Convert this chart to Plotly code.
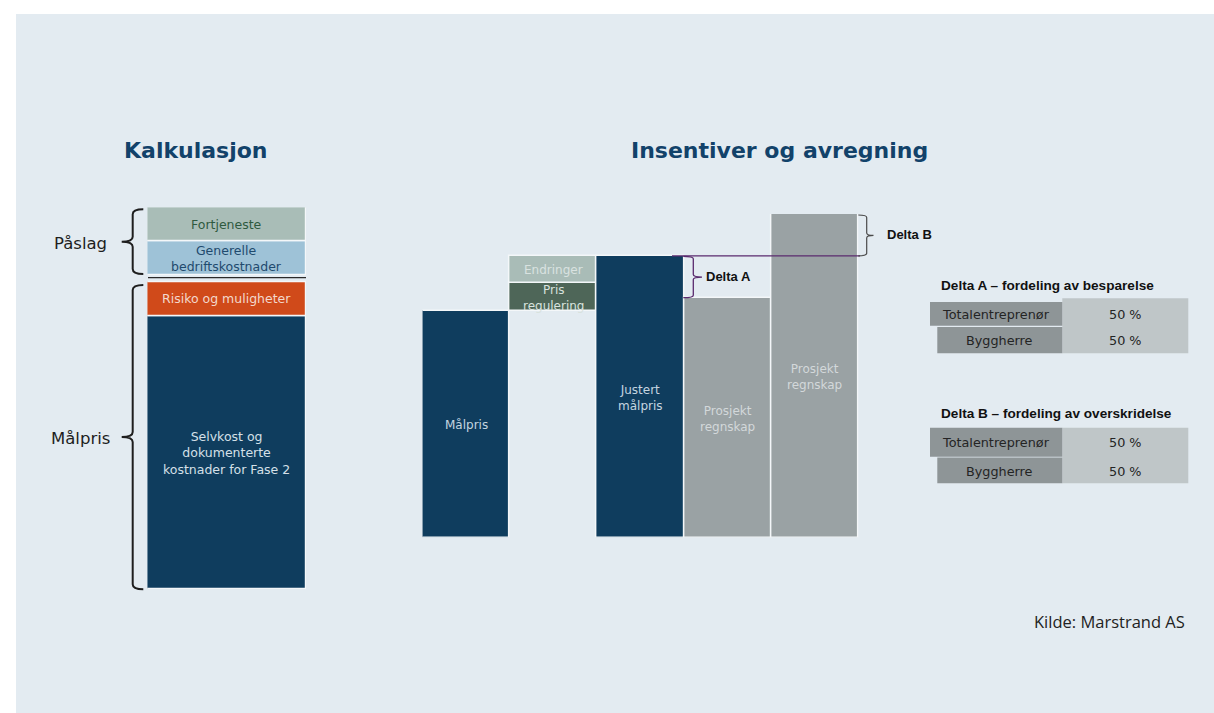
import plotly.graph_objects as go

W, H = 1214, 713

# ---------------- data ----------------
# Left: Kalkulasjon (stacked, bottom -> top)
kalk_labels = ["Selvkost og<br>dokumenterte<br>kostnader for Fase 2", "Risiko og muligheter",
               "Generelle<br>bedriftskostnader", "Fortjeneste"]
kalk_values = [100, 12.5, 12.4, 12.4]
kalk_groups = ["Målpris", "Målpris", "Påslag", "Påslag"]

# Right: Insentiver og avregning
wf_categories = ["Målpris", "Tillegg", "Justert målpris", "Prosjektregnskap A", "Prosjektregnskap B"]
malpris = 100
prisregulering = 12.5
endringer = 12
justert_malpris = 124.5
prosjekt_a = 106
prosjekt_b = 143

parter = ["Totalentreprenør", "Byggherre"]
delta_a_andel = [50, 50]
delta_b_andel = [50, 50]

# ---------------- styles ----------------
NAVY = "#0F3D5E"
BG = "#E3EBF1"
GREY = "#9AA2A4"
GROUP_GAP = 2.5
FONT = "DejaVu Sans"
ARIAL = "Liberation Sans"

def px(x, y):
    return x / W, 1 - y / H

# axis geometry (pixels)
L_X0, L_X1, L_YB, L_YT = 147.3, 306.0, 589.3, 207.3
R_X0, R_X1, R_YB, R_YT = 422.4, 858.6, 537.5, 214.0

total_left = sum(kalk_values) + GROUP_GAP
r_max = max(malpris + prisregulering + endringer, justert_malpris, prosjekt_a, prosjekt_b)

def left_py(v):
    return L_YB - v * (L_YB - L_YT) / total_left

def right_py(v):
    return R_YB - v * (R_YB - R_YT) / r_max

fig = go.Figure()
annotations = []

# ---- left stacked bar ----
kalk_colors = [NAVY, "#D04A1A", "#9EC2D7", "#A9BDB7"]
kalk_text_colors = ["#D5E0E8", "#F3D8CD", "#1F4A6E", "#2F5A3F"]
bases = []
acc = 0
for i, v in enumerate(kalk_values):
    if i > 0 and kalk_groups[i] != kalk_groups[i - 1]:
        acc += GROUP_GAP
    bases.append(acc)
    acc += v
for lab, v, b, c in zip(kalk_labels, kalk_values, bases, kalk_colors):
    fig.add_trace(go.Bar(x=["Kalkulasjon"], y=[v], base=[b], marker=dict(color=c, line=dict(color="#F4F7F9", width=1.5)),
                         xaxis="x2", yaxis="y2", showlegend=False, hoverinfo="skip"))
for lab, v, b, tc in zip(kalk_labels, kalk_values, bases, kalk_text_colors):
    annotations.append(dict(x="Kalkulasjon", y=b + v / 2, xref="x2", yref="y2", text=lab, showarrow=False,
                            font=dict(family=FONT, size=12.5, color=tc), align="center"))

# ---- right waterfall ----
wf_bars = [
    (wf_categories[0], malpris, 0, NAVY, "Målpris", "#C5D5E0"),
    (wf_categories[1], prisregulering, malpris, "#4E6658", "Pris<br>regulering", "#D8E2DE"),
    (wf_categories[1], endringer, malpris + prisregulering, "#A9BCB7", "Endringer", "#D9E2E0"),
    (wf_categories[2], justert_malpris, 0, NAVY, "Justert<br>målpris", "#C5D5E0"),
    (wf_categories[3], prosjekt_a, 0, GREY, "Prosjekt<br>regnskap", "#D3D8DA"),
    (wf_categories[4], prosjekt_b, 0, GREY, "Prosjekt<br>regnskap", "#D3D8DA"),
]
for cat, v, b, c, lab, tc in wf_bars:
    fig.add_trace(go.Bar(x=[cat], y=[v], base=[b], marker=dict(color=c, line=dict(color="#F4F7F9", width=1.5)),
                         xaxis="x", yaxis="y", showlegend=False, hoverinfo="skip"))
    annotations.append(dict(x=cat, y=b + v / 2, xref="x", yref="y", yshift=-1, text=lab, showarrow=False,
                            font=dict(family=FONT, size=12, color=tc), align="center"))

shapes = []
# panel background
shapes.append(dict(type="rect", xref="paper", yref="paper", x0=16 / W, x1=1, y0=0, y1=1 - 14 / H,
                   fillcolor=BG, line=dict(width=0), layer="below"))

def brace_path(x_stem, x_hook, x_tip, y_top, y_bot, r=4):
    ym = (y_top + y_bot) / 2
    pts = [
        ("M", [(x_hook, y_top)]),
        ("Q", [(x_stem, y_top), (x_stem, y_top + r)]),
        ("L", [(x_stem, ym - r)]),
        ("Q", [(x_stem, ym), (x_tip, ym)]),
        ("Q", [(x_stem, ym), (x_stem, ym + r)]),
        ("L", [(x_stem, y_bot - r)]),
        ("Q", [(x_stem, y_bot), (x_hook, y_bot)]),
    ]
    s = ""
    for cmd, ps in pts:
        s += cmd + " " + " ".join("%.5f,%.5f" % px(x, y) for x, y in ps) + " "
    return s.strip()

# Påslag / Målpris braces (left)
pas_top = left_py(bases[2] + kalk_values[2] + kalk_values[3]) + 2
pas_bot = left_py(bases[2]) - 1
mal_top = left_py(bases[1] + kalk_values[1]) + 3
mal_bot = left_py(0)
for yt, yb in [(pas_top, pas_bot), (mal_top, mal_bot)]:
    shapes.append(dict(type="path", xref="paper", yref="paper",
                       path=brace_path(132.7, 143.3, 121.7, yt, yb, r=5),
                       line=dict(color="#1E1E1E", width=2)))
# separator line in the gap
sep_y = left_py(bases[2]) + 2.5
shapes.append(dict(type="line", xref="paper", yref="paper", x0=148 / W, x1=306 / W,
                   y0=1 - sep_y / H, y1=1 - sep_y / H, line=dict(color="#2A2A2A", width=1.2)))

# purple reference line at Justert målpris
jy = right_py(justert_malpris)
shapes.append(dict(type="line", xref="paper", yref="paper", x0=672 / W, x1=860 / W,
                   y0=1 - jy / H, y1=1 - jy / H, line=dict(color="#5A2A6E", width=1.3)))
# Delta A brace
shapes.append(dict(type="path", xref="paper", yref="paper",
                   path=brace_path(693.3, 683.3, 702, jy + 0.5, right_py(prosjekt_a), r=2.5),
                   line=dict(color="#5A2A6E", width=1.3)))
# Delta B brace
shapes.append(dict(type="path", xref="paper", yref="paper",
                   path=brace_path(866.7, 858.3, 873.5, right_py(prosjekt_b) + 1, jy, r=2.5),
                   line=dict(color="#4A4A4A", width=1.2)))

def text(x, y, t, size, color, family=FONT, xanchor="center", bold=False):
    xx, yy = px(x, y)
    if bold:
        t = "<b>" + t + "</b>"
    annotations.append(dict(x=xx, y=yy, xref="paper", yref="paper", text=t, showarrow=False,
                            xanchor=xanchor, yanchor="middle", font=dict(family=family, size=size, color=color)))

text(196, 151, "Kalkulasjon", 22, "#12426A", bold=True)
text(779, 151, "Insentiver og avregning", 22, "#12426A", bold=True)
text(80, 243, "Påslag", 16.5, "#1E1E1E")
text(80, 438, "Målpris", 16.5, "#1E1E1E")
text(704, (jy + right_py(prosjekt_a)) / 2, "Delta A", 13, "#111111", family=ARIAL, xanchor="left", bold=True)
text(885, (jy + right_py(prosjekt_b)) / 2, "Delta B", 13, "#111111", family=ARIAL, xanchor="left", bold=True)
text(1187, 621, "Kilde: Marstrand AS", 16.5, "#222222", family="Open Sans", xanchor="right")

# distribution tables
LABEL_C = "#8E9597"
VALUE_C = "#BFC6C8"
tables = [
    ("Delta A – fordeling av besparelse", 285, delta_a_andel, (298.3, 353.3), [(302.0, 325.7), (327.0, 353.3)]),
    ("Delta B – fordeling av overskridelse", 413, delta_b_andel, (427.7, 483.3), [(427.7, 456.7), (457.5, 483.3)]),
]
for title, ty, shares, (vy0, vy1), rows in tables:
    text(939, ty, title, 13.6, "#111111", family=ARIAL, xanchor="left", bold=True)
    x0, y0 = px(1062.3, vy1)
    x1, y1 = px(1188.3, vy0)
    shapes.append(dict(type="rect", xref="paper", yref="paper", x0=x0, x1=x1, y0=y0, y1=y1,
                       fillcolor=VALUE_C, line=dict(width=0)))
    for i, (party, share, (ry0, ry1)) in enumerate(zip(parter, shares, rows)):
        lx = 930.0 if i == 0 else 937.3
        a0, b0 = px(lx, ry1)
        a1, b1 = px(1062.3, ry0)
        shapes.append(dict(type="rect", xref="paper", yref="paper", x0=a0, x1=a1, y0=b0, y1=b1,
                           fillcolor=LABEL_C, line=dict(width=0)))
        cy = (ry0 + ry1) / 2 + 0.8
        text((lx + 1062.3) / 2, cy, party, 12.8, "#242424")
        text(1125.3, cy, f"{share} %", 12.8, "#242424")

hidden = dict(visible=False, showgrid=False, zeroline=False, fixedrange=True)
fig.update_layout(
    width=W, height=H, margin=dict(l=0, r=0, t=0, b=0),
    paper_bgcolor="white", plot_bgcolor="rgba(0,0,0,0)",
    barmode="overlay", bargap=0,
    xaxis=dict(domain=[R_X0 / W, R_X1 / W], type="category", categoryorder="array",
               categoryarray=wf_categories, range=[-0.5, len(wf_categories) - 0.5], anchor="y", **hidden),
    yaxis=dict(domain=[1 - R_YB / H, 1 - R_YT / H], range=[0, r_max], anchor="x", **hidden),
    xaxis2=dict(domain=[L_X0 / W, L_X1 / W], type="category", range=[-0.5, 0.5], anchor="y2", **hidden),
    yaxis2=dict(domain=[1 - L_YB / H, 1 - L_YT / H], range=[0, total_left], anchor="x2", **hidden),
    shapes=shapes, showlegend=False,
)
fig.layout.annotations = annotations

fig.write_html("out.html")
